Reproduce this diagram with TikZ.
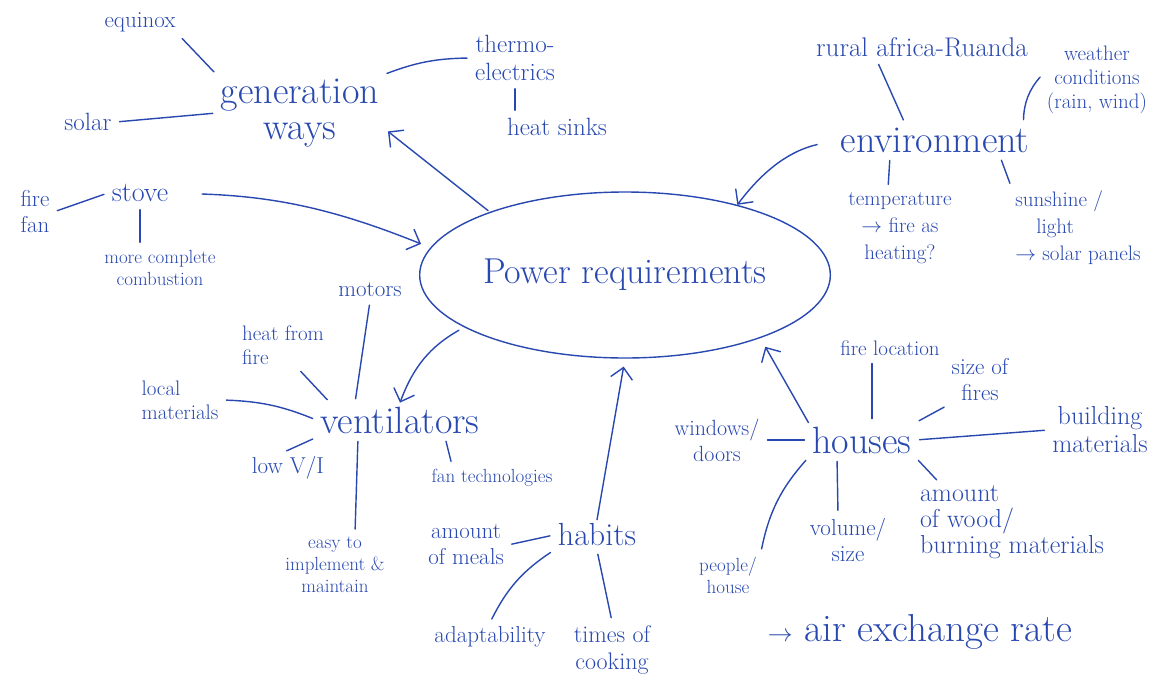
\documentclass[tikz,border=0pt]{standalone}
\usepackage{amsmath,amssymb}
\usepackage{tikz}
\usetikzlibrary{shapes.geometric}
\usetikzlibrary{arrows.meta}
\usepackage{xcolor}
\definecolor{pen}{RGB}{40,72,176}

\begin{document}
\begin{tikzpicture}[x=1pt,y=-1pt,pen,line width=1.4pt,line cap=round,
  big/.style={font=\fontsize{38}{36}\selectfont,align=center},
  lbl/.style={font=\fontsize{23}{26}\selectfont,align=center},
  sml/.style={font=\fontsize{19}{22}\selectfont,align=center},
  arr/.style={-{Straight Barb[length=11pt,width=22pt]}},
  lnk/.style={shorten <=4pt,shorten >=4pt}]
\useasboundingbox (0,0) rectangle (1164,683);

% centre
\node[ellipse,draw,minimum width=408pt,minimum height=166pt,
  font=\fontsize{36}{38}\selectfont] (power) at (625,275) {Power requirements};

% generation ways
\node[big] (gen) at (300,113) {generation\\ways};
\node[lbl] (equinox) at (140,22) {equinox};
\node[lbl,font=\fontsize{25}{28}\selectfont] (solar) at (88,122) {solar};
\node[lbl,font=\fontsize{25}{28}\selectfont] (thermo) at (515,58) {thermo-\\electrics};
\node[lbl,font=\fontsize{25}{28}\selectfont] (sinks) at (557,127) {heat sinks};
\draw[lnk] (gen.north west) -- (equinox.south east);
\draw[lnk] (gen.west) -- (solar.east);
\draw[lnk] (gen.north east) to[bend left=10] (thermo.west);
\draw[lnk] (thermo.south) -- (sinks.north -| thermo.south);
\draw[arr,shorten <=2pt,shorten >=6pt] (power.155) -- (gen.-10);

% environment
\node[big] (env) at (935,140) {environment};
\node[lbl,font=\fontsize{27}{30}\selectfont] (rural) at (922,47) {rural africa-Ruanda};
\node[lbl,font=\fontsize{21}{24}\selectfont] (weather) at (1097,80) {weather\\conditions\\(rain, wind)};
\node[lbl,font=\fontsize{21}{27}\selectfont] (temp) at (900,228) {temperature\\$\rightarrow$ fire as\\heating?};
\node[lbl,font=\fontsize{21}{27}\selectfont,align=left] (sun) at (1078,228) {sunshine /\\\hspace{1em}light\\$\rightarrow$ solar panels};
\draw[lnk] ([xshift=-45pt]rural.south) -- ([xshift=-30pt]env.north);
\draw[lnk] ([xshift=-10pt]env.north east) to[bend left=20] ([yshift=6pt]weather.west);
\draw[lnk] ([xshift=-45pt]env.south) -- ([xshift=-12pt]temp.north);
\draw[lnk] ([xshift=65pt]env.south) -- (sun.north west);
\draw[arr,shorten <=20pt] (env.west) to[bend right=20] (power.32);

% stove
\node[lbl,font=\fontsize{28}{30}\selectfont] (stove) at (140,193) {stove};
\node[lbl] (fan) at (35,212) {fire\\fan};
\node[sml] (combust) at (160,268) {more complete\\combustion};
\draw[lnk] (stove.west) -- (fan.east);
\draw[lnk] (stove.south) -- ([xshift=-20pt]combust.north);
\draw[arr,shorten <=30pt,shorten >=10pt] (stove.east) to[bend left=10] (power.172);

% ventilators
\node[big] (vent) at (400,420) {ventilators};
\node[lbl] (motors) at (370,290) {motors};
\node[lbl,font=\fontsize{21}{24}\selectfont,align=left] (heatfire) at (283,345) {heat from\\fire};
\node[lbl,font=\fontsize{21}{24}\selectfont,align=left] (local) at (180,400) {local\\materials};
\node[lbl] (lowvi) at (288,468) {low V/I};
\node[lbl,font=\fontsize{19}{22}\selectfont] (fantech) at (492,478) {fan technologies};
\node[sml] (easy) at (335,565) {easy to\\implement \&\\maintain};
\draw[lnk] (motors.south) -- ([xshift=-45pt]vent.north);
\draw[lnk] ([xshift=15pt]heatfire.south) -- ([xshift=-70pt]vent.north);
\draw[lnk] (local.east) to[bend left=10] (vent.west);
\draw[lnk] (vent.south west) -- ([xshift=-5pt]lowvi.north);
\draw[lnk] ([xshift=-42pt]vent.south) -- ([xshift=20pt]easy.north);
\draw[lnk] ([xshift=45pt]vent.south) -- ([xshift=-40pt]fantech.north);
\draw[arr,shorten <=6pt] (power.198) to[bend right=20] (vent.north);

% habits
\node[lbl,font=\fontsize{32}{34}\selectfont] (habits) at (597,535) {habits};
\node[lbl] (meals) at (466,545) {amount\\of meals};
\node[lbl] (adapt) at (490,637) {adaptability};
\node[lbl,font=\fontsize{24}{27}\selectfont] (times) at (612,650) {times of\\cooking};
\draw[lnk] (habits.west) -- (meals.east);
\draw[lnk] (habits.south west) to[bend right=15] (adapt.north);
\draw[lnk] (habits.south) -- (times.north);
\draw[arr,shorten >=8pt] (habits.north) -- (power.south);

% houses
\node[big] (houses) at (862,440) {houses};
\node[lbl,font=\fontsize{21}{24}\selectfont] (fireloc) at (890,348) {fire location};
\node[lbl] (sizefire) at (980,380) {size of\\fires};
\node[lbl,font=\fontsize{26}{28}\selectfont] (build) at (1100,430) {building\\materials};
\node[lbl,font=\fontsize{22}{26}\selectfont] (windows) at (717,440) {windows/\\doors};
\node[sml] (people) at (728,575) {people/\\house};
\node[lbl] (volume) at (848,540) {volume/\\size};
\node[lbl,font=\fontsize{26}{26}\selectfont,align=left,anchor=west] (wood) at (916,522) {amount\\of wood/\\burning materials};
\node[font=\fontsize{39}{40}\selectfont] (air) at (920,632) {$\rightarrow$ air exchange rate};
\draw[lnk] ([xshift=10pt]houses.north) -- ([xshift=-18pt]fireloc.south);
\draw[lnk] (houses.north east) -- (sizefire.south west);
\draw[lnk] (houses.east) -- (build.west);
\draw[lnk] (houses.west) -- (windows.east);
\draw[lnk] (houses.south west) to[bend right=15] (people.north east);
\draw[lnk] ([xshift=-25pt]houses.south) -- ([xshift=-10pt]volume.north);
\draw[lnk,shorten >=2pt] (houses.south east) -- ([xshift=22pt]wood.north west);
\draw[arr,shorten >=10pt] (houses.north west) -- (power.-25);
\end{tikzpicture}
\end{document}
